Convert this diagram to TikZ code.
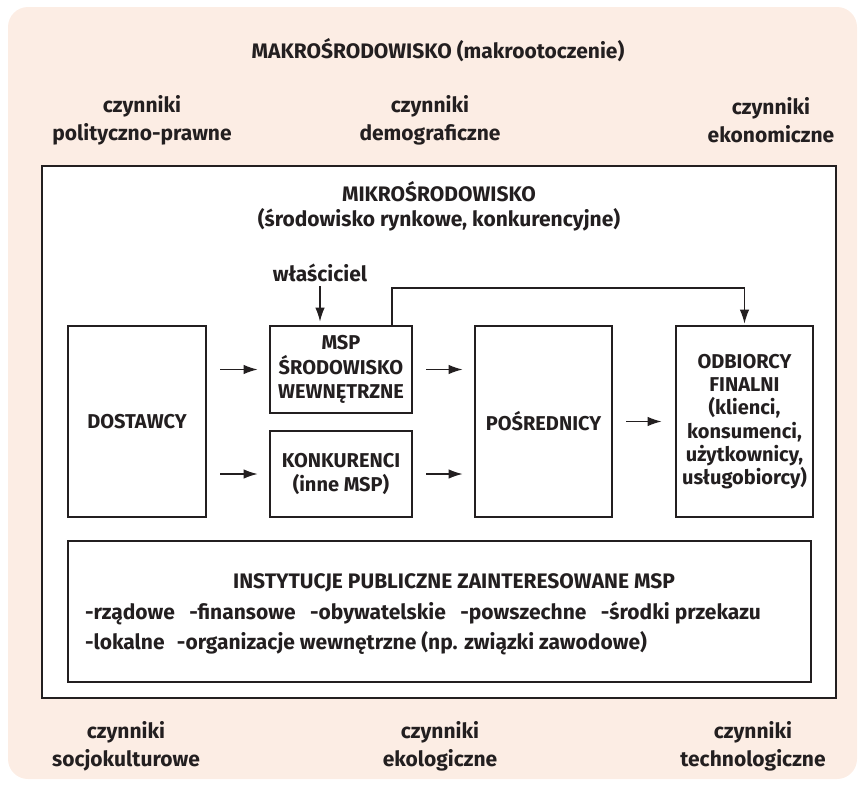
\documentclass[tikz,border=0pt]{standalone}
\usepackage{fontspec}
\setmainfont{Fira Sans}
\usepackage{tikz}
\usetikzlibrary{arrows.meta, positioning, calc}
\definecolor{MacroBg}{RGB}{252,237,228}
\definecolor{FrameGray}{RGB}{35,31,32}
\tikzset{
  % ramki
  box/.style={draw=FrameGray, line width=2.8pt, fill=white, align=center, inner sep=0pt,
    text=FrameGray, font=\bfseries\fontsize{20}{24.5}\selectfont},
  factor/.style={align=center, inner sep=0pt, text=FrameGray, font=\bfseries\fontsize{21}{28}\selectfont},
  heading/.style={align=center, inner sep=0pt, text=FrameGray, font=\bfseries\fontsize{21}{25}\selectfont},
  list line/.style={anchor=west, inner sep=0pt, text=FrameGray, font=\bfseries\fontsize{21}{24}\selectfont},
  % strzalki
  connect arrow/.style={-{Latex[length=14pt,width=9.5pt]}, line width=1.3pt, FrameGray,
    shorten <=13pt, shorten >=11pt},
  connect line/.style={-{Latex[length=14pt,width=9.5pt]}, line width=1.2pt, FrameGray}
}

\begin{document}
\begin{tikzpicture}[x=1pt,y=-1pt]
  \useasboundingbox (0,0) rectangle (860,790);
  % makrootoczenie
  \fill[MacroBg, rounded corners=20pt] (8,7) rectangle (857,779);
  \node[heading] (makro) at (438,50) {MAKROŚRODOWISKO (makrootoczenie)};
  \node[factor] (polit) at (142,120) {czynniki\\polityczno-prawne};
  \node[factor] (demo) at (430,120) {czynniki\\demograficzne};
  \node[factor] (ekon) at (771,120) {czynniki\\ekonomiczne};
  \node[factor] (socjo) at (126,746) {czynniki\\socjokulturowe};
  \node[factor] (ekolog) at (440,746) {czynniki\\ekologiczne};
  \node[factor] (techn) at (753,746) {czynniki\\technologiczne};

  % mikrootoczenie
  \node[box, minimum width=794pt, minimum height=532pt] (mikro) at (439,432) {};
  \node[heading] (mikrotitle) at (439,206) {MIKROŚRODOWISKO\\(środowisko rynkowe, konkurencyjne)};
  \node[heading] (wlasc) at (320,273) {właściciel};

  \node[box, minimum width=138pt, minimum height=191pt] (dost) at (137,421.5) {DOSTAWCY};
  \node[box, minimum width=142pt, minimum height=87pt] (msp) at (341,369.5) {MSP\\ŚRODOWISKO\\WEWNĘTRZNE};
  \node[box, minimum width=142pt, minimum height=86pt] (konk) at (341,474) {KONKURENCI\\(inne MSP)};
  \node[box, minimum width=137pt, minimum height=191pt] (posr) at (543.5,421.5) {POŚREDNICY};
  \node[box, minimum width=137pt, minimum height=191pt, font=\bfseries\fontsize{20}{23.3}\selectfont]
    (odb) at (744.5,421.5) {ODBIORCY\\FINALNI\\(klienci,\\konsumenci,\\użytkownicy,\\usługobiorcy)};

  \node[box, minimum width=743pt, minimum height=141pt] (inst) at (439.5,611.5) {};
  \node[inner sep=0pt, text=FrameGray, font=\bfseries\fontsize{21}{24}\selectfont] (insttitle) at (454,583)
    {INSTYTUCJE PUBLICZNE ZAINTERESOWANE MSP};
  \node[list line] (instA) at (85,613) {-rządowe\hspace{0.45em} -finansowe\hspace{0.45em} -obywatelskie\hspace{0.45em} -powszechne\hspace{0.45em} -środki przekazu};
  \node[list line] (instB) at (85,643) {-lokalne\hspace{0.35em} -organizacje wewnętrzne (np. związki zawodowe)};

  % powiazania
  \draw[connect arrow] (dost.east |- msp) -- (msp.west);
  \draw[connect arrow] (dost.east |- konk) -- (konk.west);
  \draw[connect arrow] (msp.east) -- (posr.west |- msp);
  \draw[connect arrow] (konk.east) -- (posr.west |- konk);
  \draw[connect arrow, shorten >=13pt] (posr.east) -- (odb.west);
  \draw[connect line, shorten <=4pt, shorten >=3pt] (wlasc.south) -- (wlasc.south |- msp.north);
  \coordinate (bend) at (392,288);
  \draw[connect line, shorten >=1pt] (bend |- msp.north) |- (odb.north |- bend) -- (odb.north);
\end{tikzpicture}
\end{document}
